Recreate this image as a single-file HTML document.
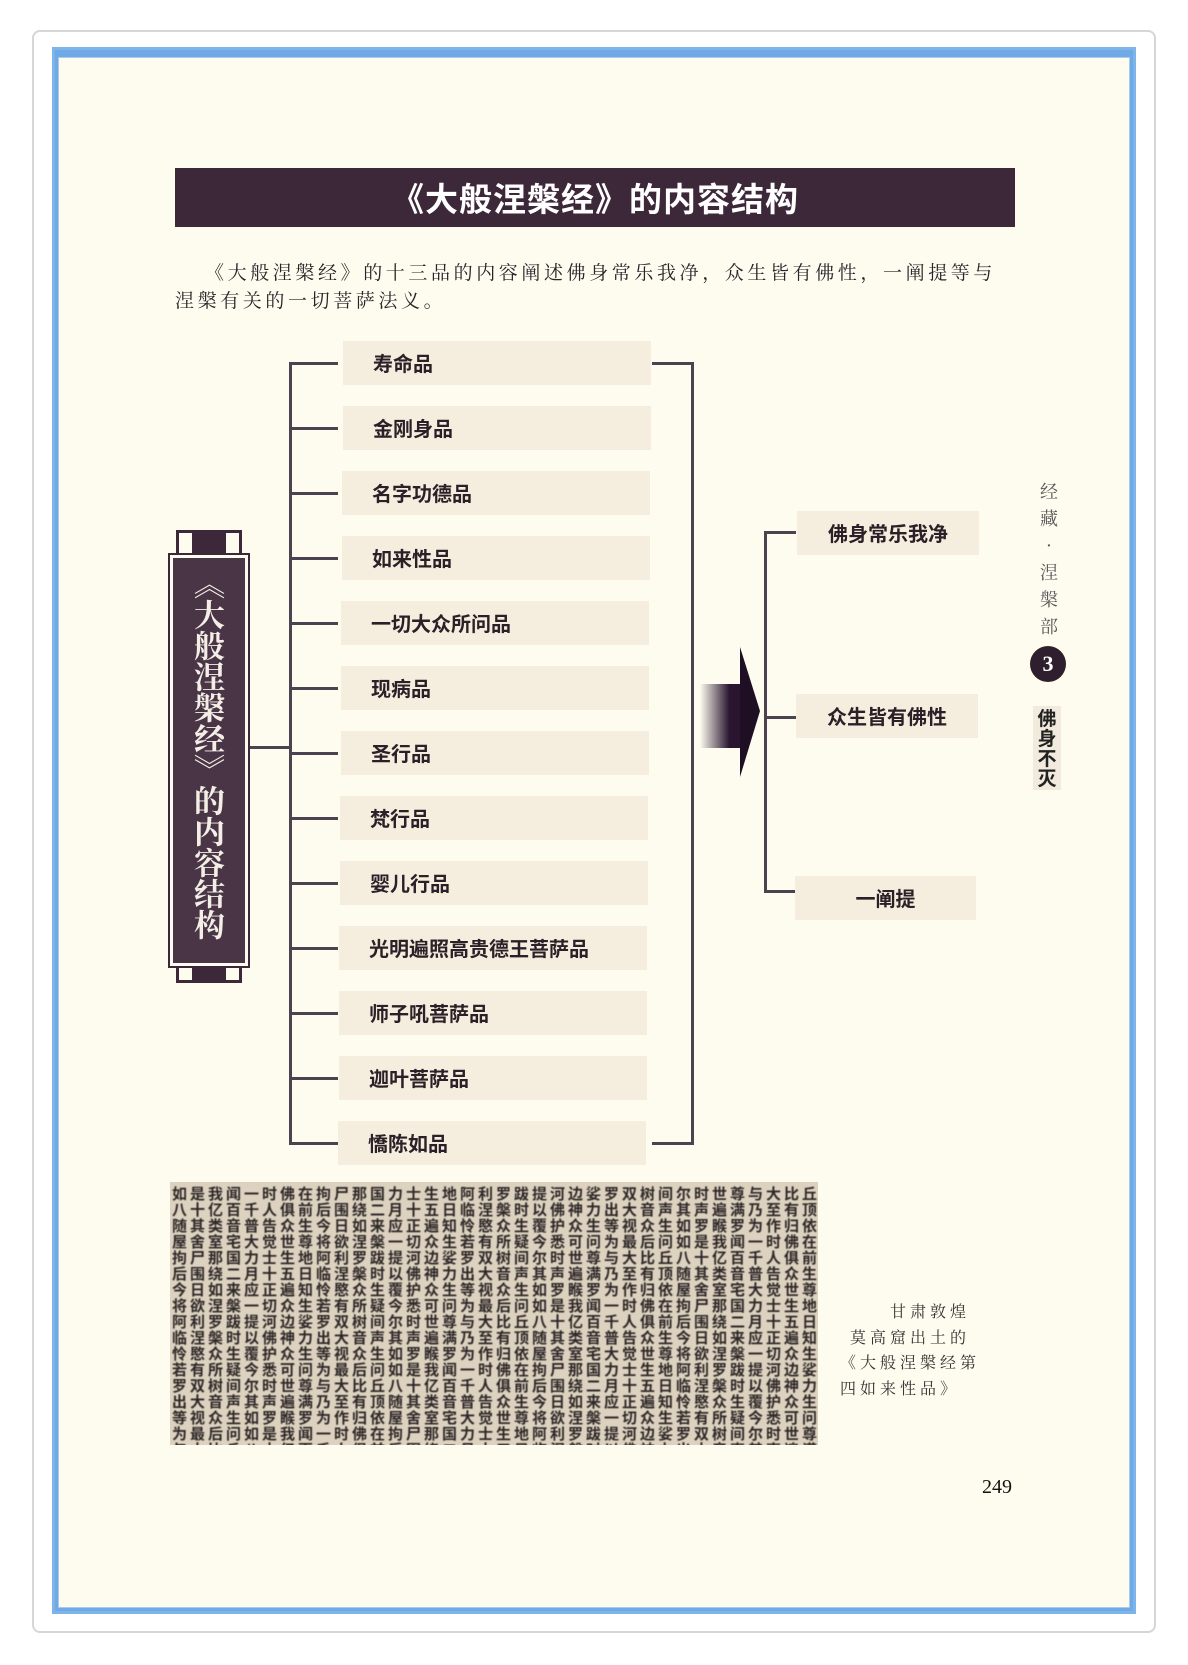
<!DOCTYPE html>
<html><head><meta charset="utf-8">
<style>
*{margin:0;padding:0;box-sizing:border-box}
body{width:1188px;height:1665px;background:#fff;position:relative;overflow:hidden;font-family:"Liberation Sans","Noto Sans CJK SC",sans-serif}
.a{position:absolute}
.frame{left:32px;top:30px;width:1124px;height:1603px;border:2px solid #d6d6d6;border-radius:8px;background:#fff}
.blue{left:52px;top:47px;width:1084px;height:1567px;border:3px solid #7db4ea;background:#6fa9e6}
.page{left:58px;top:57px;width:1072px;height:1551px;background:#fdfcef;border:1px solid #a9c9ee}
.title{left:175px;top:168px;width:840px;height:59px;background:#3c2839;color:#fff;font:bold 33px "Noto Sans CJK SC",sans-serif;text-align:center;line-height:59px;letter-spacing:1px}
.para{left:175px;font:19px "Noto Serif CJK SC","Noto Sans CJK SC",serif;color:#2a2228;letter-spacing:3.6px;white-space:nowrap}
.box{position:absolute;height:44px;background:#f5eddd;font:bold 20px "Noto Sans CJK SC",sans-serif;color:#2a2027;line-height:44px}
.ln{position:absolute;background:#4d4250}
.side{left:1038px;width:22px;text-align:center;font:18px "Noto Serif CJK SC",serif;color:#555}
</style></head><body>
<div class="a frame"></div>
<div class="a blue"></div>
<div class="a page"></div>
<div class="a title">《大般涅槃经》的内容结构</div>
<div class="a para" style="top:258px;left:205px">《大般涅槃经》的十三品的内容阐述佛身常乐我净，众生皆有佛性，一阐提等与</div>
<div class="a para" style="top:286px">涅槃有关的一切菩萨法义。</div>

<div class="a" style="left:176px;top:530px;width:66px;height:30px;border:3px solid #3c2839;border-bottom:none;background:#fdfcef"></div>
<div class="a" style="left:192px;top:532px;width:34px;height:22px;background:#3c2839"></div>
<div class="a" style="left:176px;top:953px;width:66px;height:30px;border:3px solid #3c2839;border-top:none;background:#fdfcef"></div>
<div class="a" style="left:192px;top:959px;width:34px;height:22px;background:#3c2839"></div>
<div class="a" style="left:168px;top:553px;width:82px;height:415px;background:#fdfcef;border:2px solid #3c2839"></div>
<div class="a" style="left:173px;top:558px;width:72px;height:405px;background:#4a3547"></div>
<div class="a" style="left:181px;top:568px;width:56px;height:385px;writing-mode:vertical-rl;color:#f4efe6;font:bold 31px 'Noto Serif CJK SC',serif;line-height:56px;letter-spacing:0px">《大般涅槃经》的内容结构</div>
<div class="ln" style="left:250px;top:746px;width:42px;height:3px"></div>

<div class="ln" style="left:289px;top:362px;width:3px;height:783px"></div>
<div class="ln" style="left:691px;top:362px;width:3px;height:783px"></div>

<div id="rows"></div>
<script>
var names=["寿命品","金刚身品","名字功德品","如来性品","一切大众所问品","现病品","圣行品","梵行品","婴儿行品","光明遍照高贵德王菩萨品","师子吼菩萨品","迦叶菩萨品","憍陈如品"];
var h="";
for(var i=0;i<13;i++){
 var y=363+i*65;var x=343-Math.round(i*0.4);
 h+='<div class="box" style="left:'+x+'px;top:'+(y-22)+'px;width:308px;padding-left:30px">'+names[i]+'</div>';
 h+='<div class="ln" style="left:290px;top:'+(y-1)+'px;width:48px;height:3px"></div>';
 if(i==0||i==12)h+='<div class="ln" style="left:652px;top:'+(y-1)+'px;width:40px;height:3px"></div>';
}
document.getElementById("rows").innerHTML=h;
</script>

<div class="a" style="left:700px;top:684px;width:42px;height:64px;background:linear-gradient(90deg,rgba(40,20,40,0),#2a1530 70%)"></div>
<svg class="a" style="left:700px;top:645px" width="64" height="135"><polygon points="40,2 60,66 40,132" fill="#1e0f25"/></svg>

<div class="ln" style="left:764px;top:531px;width:3px;height:362px"></div>
<div class="ln" style="left:764px;top:531px;width:32px;height:3px"></div>
<div class="ln" style="left:764px;top:716px;width:32px;height:3px"></div>
<div class="ln" style="left:764px;top:890px;width:32px;height:3px"></div>
<div class="box" style="left:797px;top:511px;width:182px;text-align:center">佛身常乐我净</div>
<div class="box" style="left:796px;top:694px;width:182px;text-align:center">众生皆有佛性</div>
<div class="box" style="left:795px;top:876px;width:181px;text-align:center">一阐提</div>

<div class="a side" style="top:478px;line-height:27px">经<br>藏<br>·<br>涅<br>槃<br>部</div>
<div class="a" style="left:1030px;top:646px;width:36px;height:36px;border-radius:50%;background:#2f1f2e;color:#fff;font:bold 22px 'Liberation Serif',serif;text-align:center;line-height:36px">3</div>
<div class="a" style="left:1033px;top:706px;width:28px;height:84px;background:#f2eadc;font:bold 19px 'Noto Sans CJK SC',sans-serif;color:#222;text-align:center;line-height:20px;padding-top:2px">佛<br>身<br>不<br>灭</div>

<div class="a" style="left:170px;top:1182px;width:648px;height:263px;background:#ddd2bf;overflow:hidden">
<div id="ms" style="font:bold 15px 'Noto Sans CJK SC',sans-serif;color:#2e2828;line-height:16px;width:660px;letter-spacing:3px;padding:4px 2px;filter:blur(0.5px);word-break:break-all"></div>
</div>
<script>
var s="如是我闻一时佛在拘尸那国力士生地阿利罗跋提河边娑罗双树间尔时世尊与大比丘八十亿百千人俱前后围绕二月十五日临涅槃时以佛神力出大音声其声遍满乃至有顶随其类音普告众生今日如来应正遍知怜愍众生覆护众生等视众生如罗睺罗为作归依屋舍室宅大觉世尊将欲涅槃一切众生若有所疑今悉可问为最后问";
var t="";while(t.length<900)t+=s;document.getElementById("ms").textContent=t.slice(0,900);
</script>
<div class="a" style="left:830px;top:1298px;font:16px 'Noto Serif CJK SC',serif;color:#333;line-height:25.5px;letter-spacing:4px;width:160px;white-space:nowrap">
<div style="text-align:right;padding-right:20px">甘肃敦煌</div>
<div style="text-align:right;padding-right:20px">莫高窟出土的</div>
<div style="padding-left:10px">《大般涅槃经第</div>
<div style="padding-left:10px">四如来性品》</div></div>
<div class="a" style="left:982px;top:1476px;font:20px 'Liberation Serif',serif;color:#111">249</div>
</body></html>
